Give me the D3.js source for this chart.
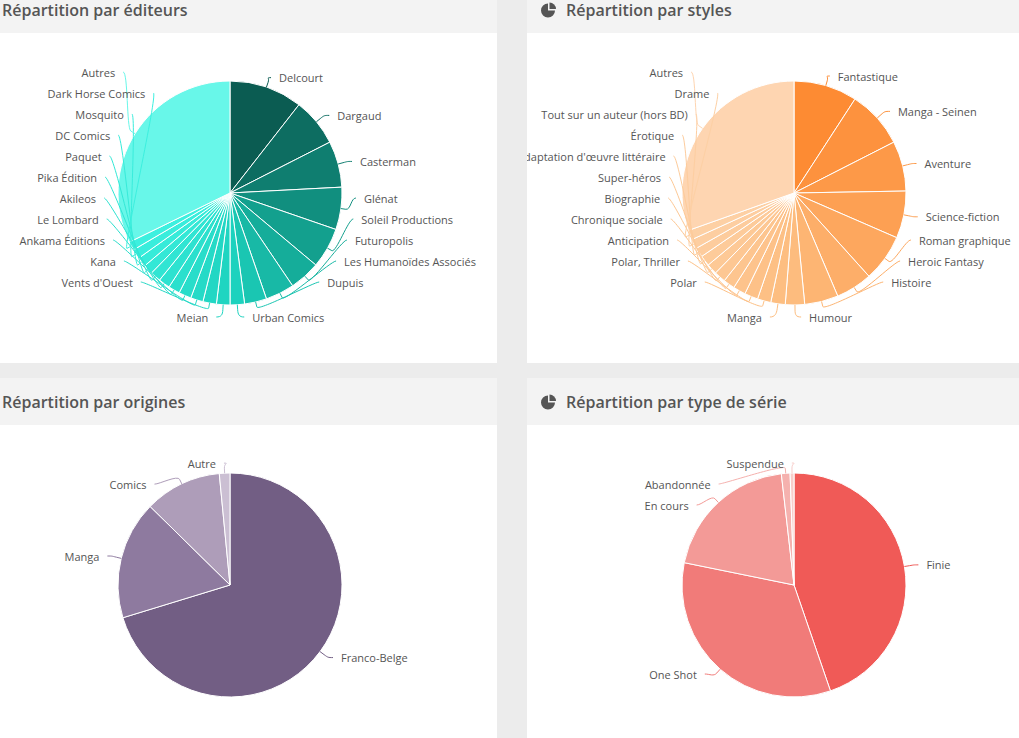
<!DOCTYPE html>
<html>
<head>
<meta charset="utf-8">
<script src="https://cdn.jsdelivr.net/npm/d3@7"></script>
<style>
  body { margin: 0; background: #ececec; overflow: hidden; }
  svg { display: block; font-family: "Open Sans", sans-serif; }
</style>
</head>
<body>
<svg id="page" width="1019" height="738"></svg>
<script>
// ---- data (counts) ----
const editeurs = ['Delcourt', 'Dargaud', 'Casterman', 'Glénat', 'Soleil Productions', 'Futuropolis',
  'Les Humanoïdes Associés', 'Dupuis', 'Urban Comics', 'Meian', "Vents d'Ouest", 'Kana',
  'Ankama Éditions', 'Le Lombard', 'Akileos', 'Pika Édition', 'Paquet', 'DC Comics', 'Mosquito',
  'Dark Horse Comics', 'Autres'];
const editeursCount = [76, 50, 48, 44, 42, 32, 30, 23, 15, 14, 14, 13, 13, 12, 12, 11, 10, 10, 10, 9, 232];

const styles = ['Fantastique', 'Manga - Seinen', 'Aventure', 'Science-fiction', 'Roman graphique',
  'Heroic Fantasy', 'Histoire', 'Humour', 'Manga', 'Polar', 'Polar, Thriller', 'Anticipation',
  'Chronique sociale', 'Biographie', 'Super-héros', "Adaptation d'œuvre littéraire", 'Érotique',
  'Tout sur un auteur (hors BD)', 'Drame', 'Autres'];
const stylesCount = [66, 60, 52, 49, 49, 38, 35, 20, 15, 14, 14, 13, 12, 12, 11, 11, 10, 10, 10, 219];

const origines = ['Franco-Belge', 'Manga', 'Comics', 'Autre'];
const originesCount = [506, 123, 80, 11];

const typesSerie = ['Finie', 'One Shot', 'En cours', 'Abandonnée', 'Suspendue'];
const typesSerieCount = [322, 241, 144, 9, 4];

// ---- palettes ----
const tealScale = d3.scaleLinear().domain([0, 4, 8, 19])
  .range(['#0b5c52', '#13a08e', '#1cd2be', '#3cf0df']);
const orangeScale = d3.scaleLinear().domain([0, 7, 18])
  .range(['#fd8b33', '#fdbc7e', '#fdd0a4']);
const purples = ['#725e84', '#8e7a9f', '#ae9db9', '#cbbfd3'];
const reds = ['#f05a57', '#f17b79', '#f39a97', '#f5b1ae', '#f8cdca'];

const panelW = 534, headerH = 47, bodyH = 330;

const panels = [
  {x0: -37, hy: -14, title: 'Répartition par éditeurs', names: editeurs, values: editeursCount,
    color: (i, n) => i === n - 1 ? '#68f7e9' : tealScale(i)},
  {x0: 527, hy: -14, title: 'Répartition par styles', names: styles, values: stylesCount,
    color: (i, n) => i === n - 1 ? '#fed5b1' : orangeScale(i)},
  {x0: -37, hy: 378, title: 'Répartition par origines', names: origines, values: originesCount,
    color: i => purples[i]},
  {x0: 527, hy: 378, title: 'Répartition par type de série', names: typesSerie, values: typesSerieCount,
    color: i => reds[i]}
];

const svg = d3.select('#page');
const defs = svg.append('defs');

const pie = d3.pie().sort(null).value(d => d.value);
const r = 112;
const arc = d3.arc().innerRadius(0).outerRadius(r);

const iconBody = d3.arc().innerRadius(0).outerRadius(7).startAngle(Math.PI / 2).endAngle(2 * Math.PI);
const iconWedge = d3.arc().innerRadius(0).outerRadius(6.5).startAngle(0).endAngle(Math.PI / 2);

panels.forEach((p, pi) => {
  const g = svg.append('g');

  g.append('rect')
    .attr('x', p.x0).attr('y', p.hy)
    .attr('width', panelW).attr('height', headerH)
    .attr('fill', '#f3f3f3');
  g.append('rect')
    .attr('x', p.x0).attr('y', p.hy + headerH)
    .attr('width', panelW).attr('height', bodyH)
    .attr('fill', '#fff');

  // labels get cut at the panel edge, as in the original
  defs.append('clipPath').attr('id', 'clip' + pi)
    .append('rect')
      .attr('x', p.x0).attr('y', p.hy + headerH)
      .attr('width', panelW).attr('height', bodyH);

  // pie icon only shows on the right-hand panels (the left ones are cut off)
  if (p.x0 >= 0) {
    const ic = g.append('g')
      .attr('transform', `translate(${p.x0 + 21},${p.hy + headerH / 2 + 1})`)
      .attr('fill', '#555');
    ic.append('path').attr('d', iconBody());
    ic.append('path').attr('d', iconWedge()).attr('transform', 'translate(1.5,-1.5)');
  }

  g.append('text')
    .attr('x', p.x0 + 39).attr('y', p.hy + headerH / 2)
    .attr('dominant-baseline', 'central')
    .attr('font-size', 16).attr('font-weight', 600)
    .attr('fill', '#555')
    .text(p.title);

  const cx = p.x0 + panelW / 2;
  const cy = p.hy + headerH + 160;
  const data = p.names.map((name, i) => ({name, value: p.values[i], i}));
  const arcs = pie(data);
  const n = data.length;

  const chart = g.append('g')
    .attr('clip-path', `url(#clip${pi})`)
    .append('g')
    .attr('transform', `translate(${cx},${cy})`);
  chart.selectAll('path.slice')
    .data(arcs)
    .join('path')
      .attr('class', 'slice')
      .attr('d', arc)
      .attr('fill', d => p.color(d.data.i, n))
      .attr('stroke', '#fff')
      .attr('stroke-width', 1)
      .attr('stroke-linejoin', 'round');

  // ---- data labels, placed the way Highcharts does it (roughly) ----
  const R = r + 14;      // anchor radius
  const Rn = r + 10;     // natural label radius
  const row = 21;
  const topBound = -r - 21, botBound = r - 23;

  arcs.forEach(d => {
    d.mid = (d.startAngle + d.endAngle) / 2;
    d.right = d.mid < Math.PI;
    d.bottom = Math.abs(d.mid - Math.PI) < 9.5 * Math.PI / 180;
    d.ny = -Rn * Math.cos(d.mid);
  });

  [true, false].forEach(side => {
    const col = arcs.filter(d => d.right === side && !d.bottom).sort((a, b) => a.ny - b.ny);
    col.forEach((d, k) => {
      d.ly = Math.max(d.ny, topBound, k ? col[k - 1].ly + row : -Infinity);
    });
    for (let k = col.length - 1; k >= 0; k--) {
      col[k].ly = Math.min(col[k].ly, botBound, k < col.length - 1 ? col[k + 1].ly - row : Infinity);
    }
  });
  arcs.filter(d => d.bottom).forEach(d => { d.ly = r + 12; });

  arcs.forEach(d => {
    const s = d.right ? 1 : -1;
    if (d.bottom) {
      d.lx = R * Math.sin(d.mid) + s * 6;
    } else if (Math.abs(d.ly) > r) {
      d.lx = R * Math.sin(d.mid);
    } else {
      d.lx = s * Math.sqrt(R * R - d.ly * d.ly);
    }
    const sn = Math.sin(d.mid), cs = Math.cos(d.mid);
    const e3 = [r * sn, -r * cs];
    const e2 = [(r + 5) * sn, -(r + 5) * cs];
    const c2 = [2 * e2[0] - e3[0], 2 * e2[1] - e3[1]];
    d.conn = `M${d.lx},${d.ly}C${d.lx - s * 5},${d.ly} ${c2[0]},${c2[1]} ${e2[0]},${e2[1]}L${e3[0]},${e3[1]}`;
  });

  chart.selectAll('path.conn')
    .data(arcs)
    .join('path')
      .attr('class', 'conn')
      .attr('d', d => d.conn)
      .attr('fill', 'none')
      .attr('stroke', d => p.color(d.data.i, n))
      .attr('stroke-width', 1);

  chart.selectAll('text.lbl')
    .data(arcs)
    .join('text')
      .attr('class', 'lbl')
      .attr('x', d => d.lx + (d.right ? 8 : -8))
      .attr('y', d => d.ly)
      .attr('text-anchor', d => d.right ? 'start' : 'end')
      .attr('dominant-baseline', 'central')
      .attr('font-size', 11)
      .attr('fill', '#555')
      .text(d => d.data.name);
});
</script>
</body>
</html>
